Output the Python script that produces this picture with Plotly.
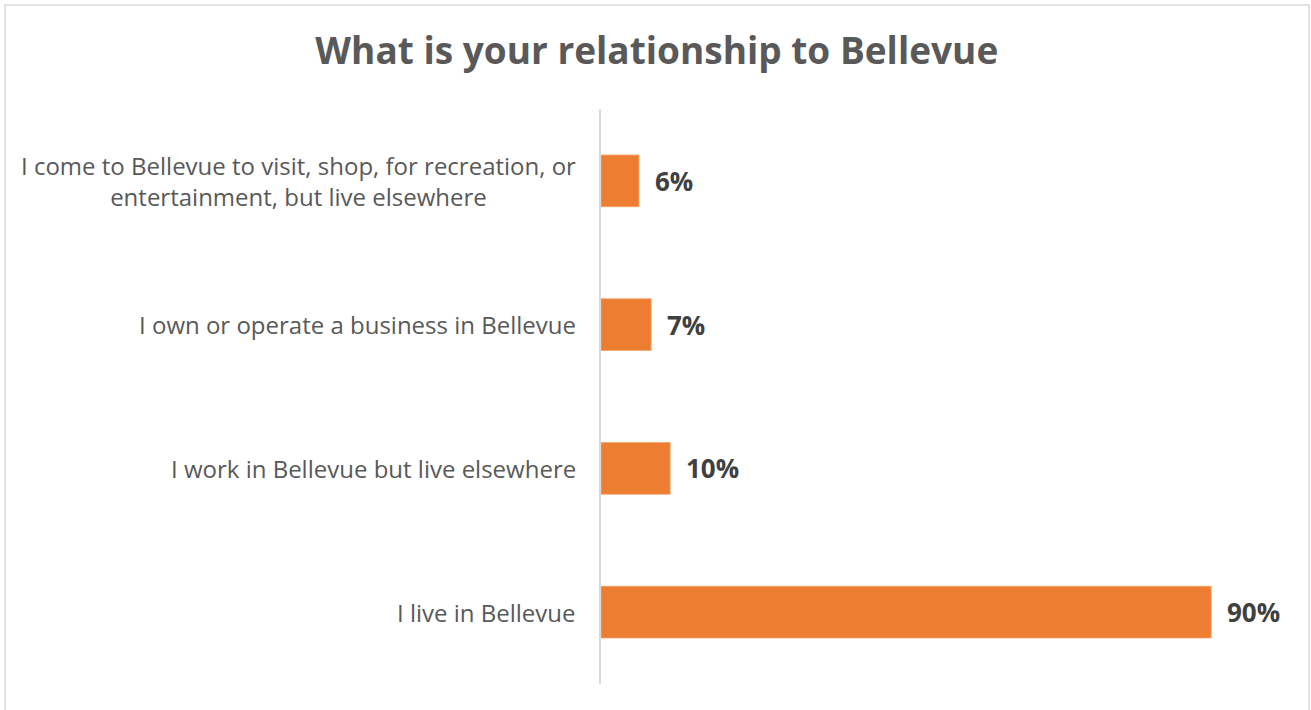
import plotly.graph_objects as go

categories = [
    "I live in Bellevue",
    "I work in Bellevue but live elsewhere",
    "I own or operate a business in Bellevue",
    "I come to Bellevue to visit, shop, for recreation, or<br>entertainment, but live elsewhere",
]
values = [90.0, 10.2, 7.4, 5.6]
value_labels = ["90%", "10%", "7%", "6%"]

W, H = 1311, 710
ml, mr, mt, mb = 601, 32, 109, 26
pw, ph = W - ml - mr, H - mt - mb

fig = go.Figure()
fig.add_trace(go.Bar(
    y=categories, x=values, orientation="h",
    marker=dict(color="#ED7D31", line=dict(color="#F4A46E", width=0.8)),
    width=0.36, hoverinfo="skip",
))

annotations = []
for c, v, lab in zip(categories, values, value_labels):
    annotations.append(dict(
        x=v, y=c, xref="x", yref="y", text=lab, showarrow=False,
        xanchor="left", xshift=14, yanchor="middle",
        font=dict(family="Open Sans", size=26, color="#404040", weight="bold"),
    ))
    annotations.append(dict(
        x=0, y=c, xref="paper", yref="y", text=c, showarrow=False,
        xanchor="right", xshift=-23, yanchor="middle", align="center",
        font=dict(family="Open Sans", size=24, color="#595959"),
    ))

def px_x(p):
    return (p - ml) / pw

def px_y(p):
    return (H - mb - p) / ph

fig.update_layout(
    width=W, height=H,
    margin=dict(l=ml, r=mr, t=mt, b=mb),
    paper_bgcolor="white", plot_bgcolor="white",
    showlegend=False,
    title=dict(
        text="What is your relationship to Bellevue",
        x=0.501, xanchor="center", xref="container", y=1 - 51 / H, yanchor="middle",
        font=dict(family="Open Sans", size=37, color="#595959", weight="bold"),
    ),
    xaxis=dict(range=[0, 100], visible=False, fixedrange=True),
    yaxis=dict(
        showticklabels=False, showgrid=False, zeroline=False,
        showline=True, linecolor="#D9D9D9", linewidth=2,
        range=[-0.5, 3.5], fixedrange=True,
    ),
    annotations=annotations,
    shapes=[dict(
        type="rect", xref="paper", yref="paper",
        x0=px_x(5), x1=px_x(1309), y0=px_y(714), y1=px_y(5),
        line=dict(color="#D9D9D9", width=1.5), layer="below",
    )],
    bargap=0.64,
)

fig.write_html(
    "out.html",
    config={"displayModeBar": False},
    post_script="document.body.style.margin='0';document.body.style.overflow='hidden';",
)
